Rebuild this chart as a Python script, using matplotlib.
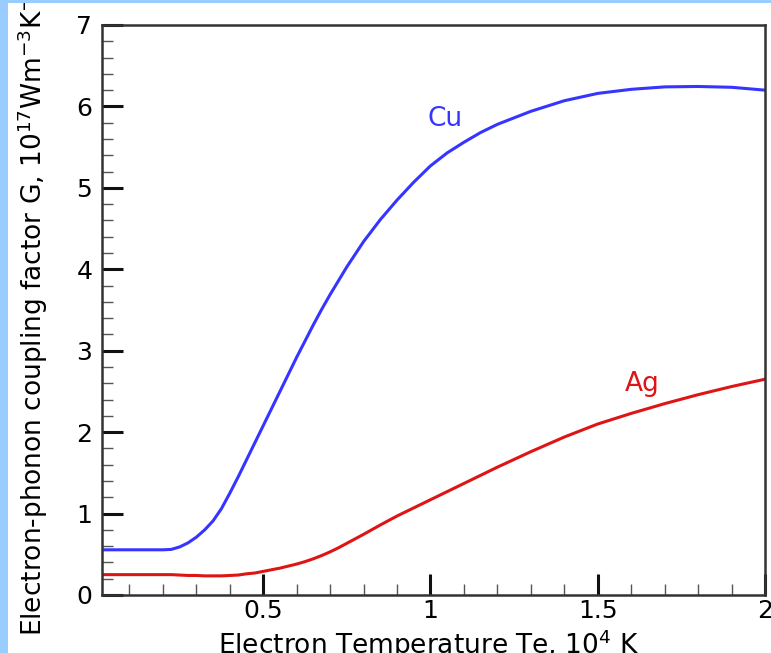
import matplotlib
matplotlib.use("Agg")
import matplotlib.pyplot as plt
from matplotlib.patches import Rectangle
from matplotlib.ticker import MultipleLocator, FormatStrFormatter

plt.rcParams['font.family'] = ['DejaVu Sans']
plt.rcParams['mathtext.fontset'] = 'dejavusans'

# Data (electron temperature in 10^4 K, G in 10^17 W m^-3 K^-1)
te = [0.018, 0.1, 0.2, 0.225, 0.25, 0.275, 0.3, 0.325, 0.35, 0.375, 0.4,
      0.425, 0.45, 0.475, 0.5, 0.525, 0.55, 0.575, 0.6, 0.625, 0.65, 0.675,
      0.7, 0.725, 0.75, 0.8, 0.85, 0.9, 0.95, 1.0, 1.05, 1.1, 1.15, 1.2,
      1.3, 1.4, 1.5, 1.6, 1.7, 1.8, 1.9, 2.0]
g_cu = [0.555, 0.555, 0.555, 0.56, 0.59, 0.64, 0.71, 0.80, 0.91, 1.06, 1.25,
        1.45, 1.66, 1.87, 2.08, 2.29, 2.50, 2.71, 2.92, 3.12, 3.32, 3.51,
        3.69, 3.86, 4.03, 4.34, 4.61, 4.85, 5.07, 5.27, 5.43, 5.56, 5.68, 5.78,
        5.94, 6.07, 6.16, 6.21, 6.24, 6.245, 6.235, 6.20]
g_ag = [0.25, 0.25, 0.25, 0.25, 0.245, 0.24, 0.24, 0.235, 0.235, 0.235, 0.24,
        0.245, 0.26, 0.27, 0.29, 0.31, 0.33, 0.355, 0.38, 0.41, 0.445, 0.485,
        0.53, 0.58, 0.635, 0.745, 0.86, 0.97, 1.07, 1.17, 1.27, 1.37, 1.47, 1.57,
        1.76, 1.94, 2.10, 2.23, 2.35, 2.46, 2.56, 2.65]

series_labels = ["Cu", "Ag"]
xlabel = "Electron Temperature Te, 10$^4$ K"
ylabel = "Electron-phonon coupling factor G, 10$^{17}$Wm$^{-3}$K$^{-1}$"

W, H = 771, 653
fig = plt.figure(figsize=(W / 100, H / 100), dpi=100)
fig.patch.set_facecolor('white')

ax = fig.add_axes([102 / W, (H - 595) / H, (765 - 102) / W, (595 - 25) / H])

blue = '#3535FF'
red = '#DD1515'
ax.plot(te, g_cu, color=blue, lw=2.2, solid_joinstyle='round')
ax.plot(te, g_ag, color=red, lw=2.2, solid_joinstyle='round')

ax.text(1.044, 5.765, series_labels[0], color=blue, fontsize=19, ha='center', va='baseline')
ax.text(1.632, 2.50, series_labels[1], color=red, fontsize=19, ha='center', va='baseline')

ax.set_xlim(0.018, 2.0)
ax.set_ylim(0, 7)
ax.xaxis.set_major_locator(MultipleLocator(0.5))
ax.xaxis.set_minor_locator(MultipleLocator(0.1))
ax.yaxis.set_major_locator(MultipleLocator(1))
ax.yaxis.set_minor_locator(MultipleLocator(0.2))
ax.xaxis.set_major_formatter(FormatStrFormatter('%g'))
ax.yaxis.set_major_formatter(FormatStrFormatter('%g'))

ax.tick_params(which='major', direction='in', length=15, width=2.2, color='#111111',
               labelsize=18, top=False, right=False)
ax.tick_params(axis='y', which='major', pad=7)
ax.tick_params(axis='x', which='major', pad=3)
ax.tick_params(which='minor', direction='in', length=8, width=1, color='#555555',
               top=False, right=False)

for s in ax.spines.values():
    s.set_linewidth(1.8)
    s.set_color('#333333')

ax.set_xlabel(xlabel, fontsize=19, va='top')
ax.xaxis.set_label_coords(0.493, (595 - 627) / 570)
ax.set_ylabel(ylabel, fontsize=19)
ax.yaxis.set_label_coords((50 - 102) / 663, 0.5)

# light-blue frame strips at image edges
fig.patches.append(Rectangle((0, 0), 8 / W, 1, transform=fig.transFigure,
                             facecolor='#99CCFF', edgecolor='none', zorder=10))
fig.patches.append(Rectangle((0, 1 - 3 / H), 1, 3 / H, transform=fig.transFigure,
                             facecolor='#99CCFF', edgecolor='none', zorder=10))

fig.savefig('out.png', dpi=100)
